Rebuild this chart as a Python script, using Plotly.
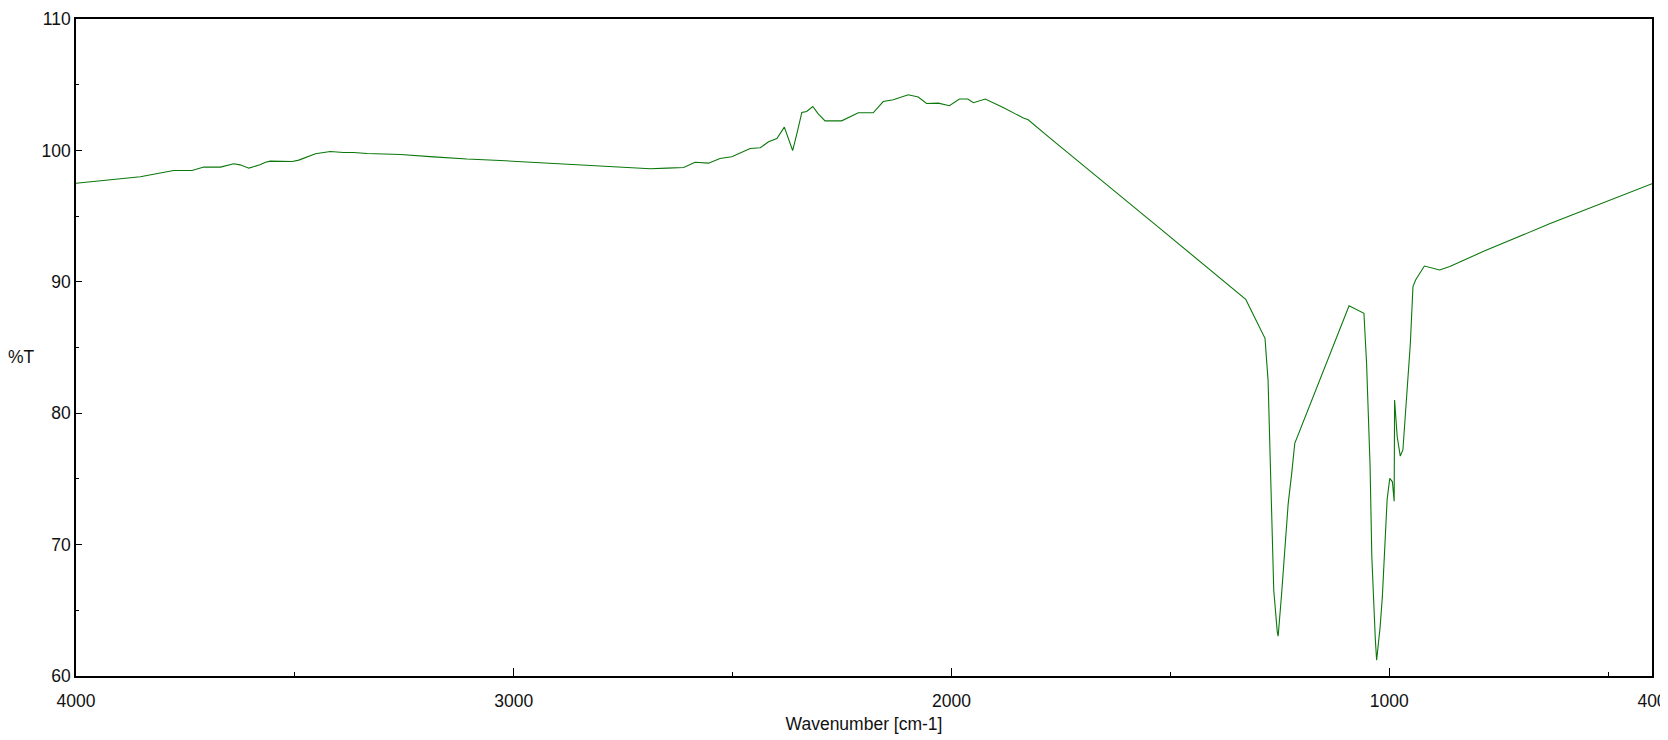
import plotly.graph_objects as go

# IR spectrum (wavenumber in cm-1, transmittance in %T)
wavenumber = [
    4000, 3853, 3777, 3735, 3708, 3670, 3640, 3625, 3605, 3580, 3567, 3556,
    3506, 3491, 3453, 3419, 3389, 3366, 3335, 3259, 3183, 3107, 3031, 2900,
    2802, 2776, 2726, 2688, 2650, 2612, 2586, 2555, 2529, 2502, 2460, 2437,
    2418, 2399, 2382, 2374, 2363, 2353, 2342, 2331, 2317, 2305, 2289, 2251,
    2213, 2179, 2156, 2133, 2099, 2076, 2057, 2030, 2005, 1982, 1963, 1950,
    1923, 1882, 1836, 1825, 1775, 1520, 1328, 1318, 1284, 1277, 1273, 1268,
    1264, 1256, 1254, 1246, 1239, 1231, 1223, 1216, 1092, 1058, 1052, 1044,
    1040, 1036, 1032, 1029, 1021, 1016, 1009, 1005, 999, 993, 989, 988,
    982, 975, 969, 961, 952, 946, 940, 920, 885, 862, 786, 634, 481, 400,
]
transmittance = [
    97.5, 98.0, 98.47, 98.47, 98.73, 98.73, 98.98, 98.9, 98.65, 98.9, 99.1, 99.18,
    99.16, 99.26, 99.74, 99.92, 99.84, 99.84, 99.76, 99.69, 99.51, 99.34, 99.23, 99.0,
    98.78, 98.75, 98.65, 98.6, 98.65, 98.7, 99.1, 99.03, 99.38, 99.51, 100.14, 100.2,
    100.65, 100.9, 101.77, 101.0, 99.99, 101.32, 102.89, 102.96, 103.34, 102.8, 102.25, 102.25,
    102.86, 102.86, 103.72, 103.85, 104.23, 104.06, 103.57, 103.6, 103.4, 103.91, 103.91, 103.63,
    103.91, 103.27, 102.46, 102.33, 100.94, 93.95, 88.67, 87.99, 85.7, 82.5, 77.45, 71.35,
    66.53, 63.36, 63.03, 66.28, 69.83, 73.14, 75.42, 77.71, 88.17, 87.6, 83.8, 76.0,
    69.07, 65.5, 62.8, 61.2, 63.74, 66.0, 70.34, 73.44, 75.04, 74.78, 73.3, 81.0,
    78.21, 76.74, 77.2, 80.75, 85.3, 89.64, 90.14, 91.2, 90.9, 91.16, 92.3, 94.41, 96.37, 97.46,
]

x_ticks = [4000, 3000, 2000, 1000, 400]
x_minor = [3500, 2500, 1500, 500]

fig = go.Figure()
fig.add_trace(go.Scatter(
    x=wavenumber,
    y=transmittance,
    mode="lines",
    line=dict(color="#0b770b", width=1.1),
    hoverinfo="skip",
))

font_name = "Liberation Sans, Arial, sans-serif"

# the page adds an 8px body margin, so the margins are shifted by that much
fig.update_layout(
    width=1668,
    height=740,
    margin=dict(l=68, r=24, t=11, b=72),
    paper_bgcolor="white",
    plot_bgcolor="white",
    showlegend=False,
    font=dict(family=font_name, size=17.5, color="#111111"),
)

fig.update_xaxes(
    range=[4000, 400],
    tickmode="array",
    tickvals=x_ticks,
    ticktext=[str(v) for v in x_ticks],
    ticks="inside",
    ticklen=8,
    tickwidth=1.2,
    tickcolor="black",
    ticklabelstandoff=8,
    automargin=False,
    showline=True,
    linecolor="black",
    linewidth=1.5,
    mirror=True,
    showgrid=False,
    zeroline=False,
    minor=dict(tickvals=x_minor, ticks="inside", ticklen=4, tickwidth=1.2, tickcolor="black", showgrid=False),
    title=dict(text="Wavenumber [cm-1]", standoff=8, font=dict(size=17.5)),
)

fig.update_yaxes(
    range=[60, 110],
    tickmode="linear",
    tick0=60,
    dtick=10,
    ticks="inside",
    ticklen=6,
    tickwidth=1.2,
    tickcolor="black",
    automargin=False,
    showline=True,
    linecolor="black",
    linewidth=1.5,
    mirror=True,
    showgrid=False,
    zeroline=False,
    minor=dict(dtick=5, ticks="inside", ticklen=3, tickwidth=1.2, tickcolor="black", showgrid=False),
)

# y label is written horizontally, left of the axis
fig.add_annotation(
    text="%T",
    xref="paper", yref="paper",
    x=-0.0346, y=0.486,
    xanchor="center", yanchor="middle",
    showarrow=False,
    font=dict(size=17.5),
)

fig.write_html("out.html")
